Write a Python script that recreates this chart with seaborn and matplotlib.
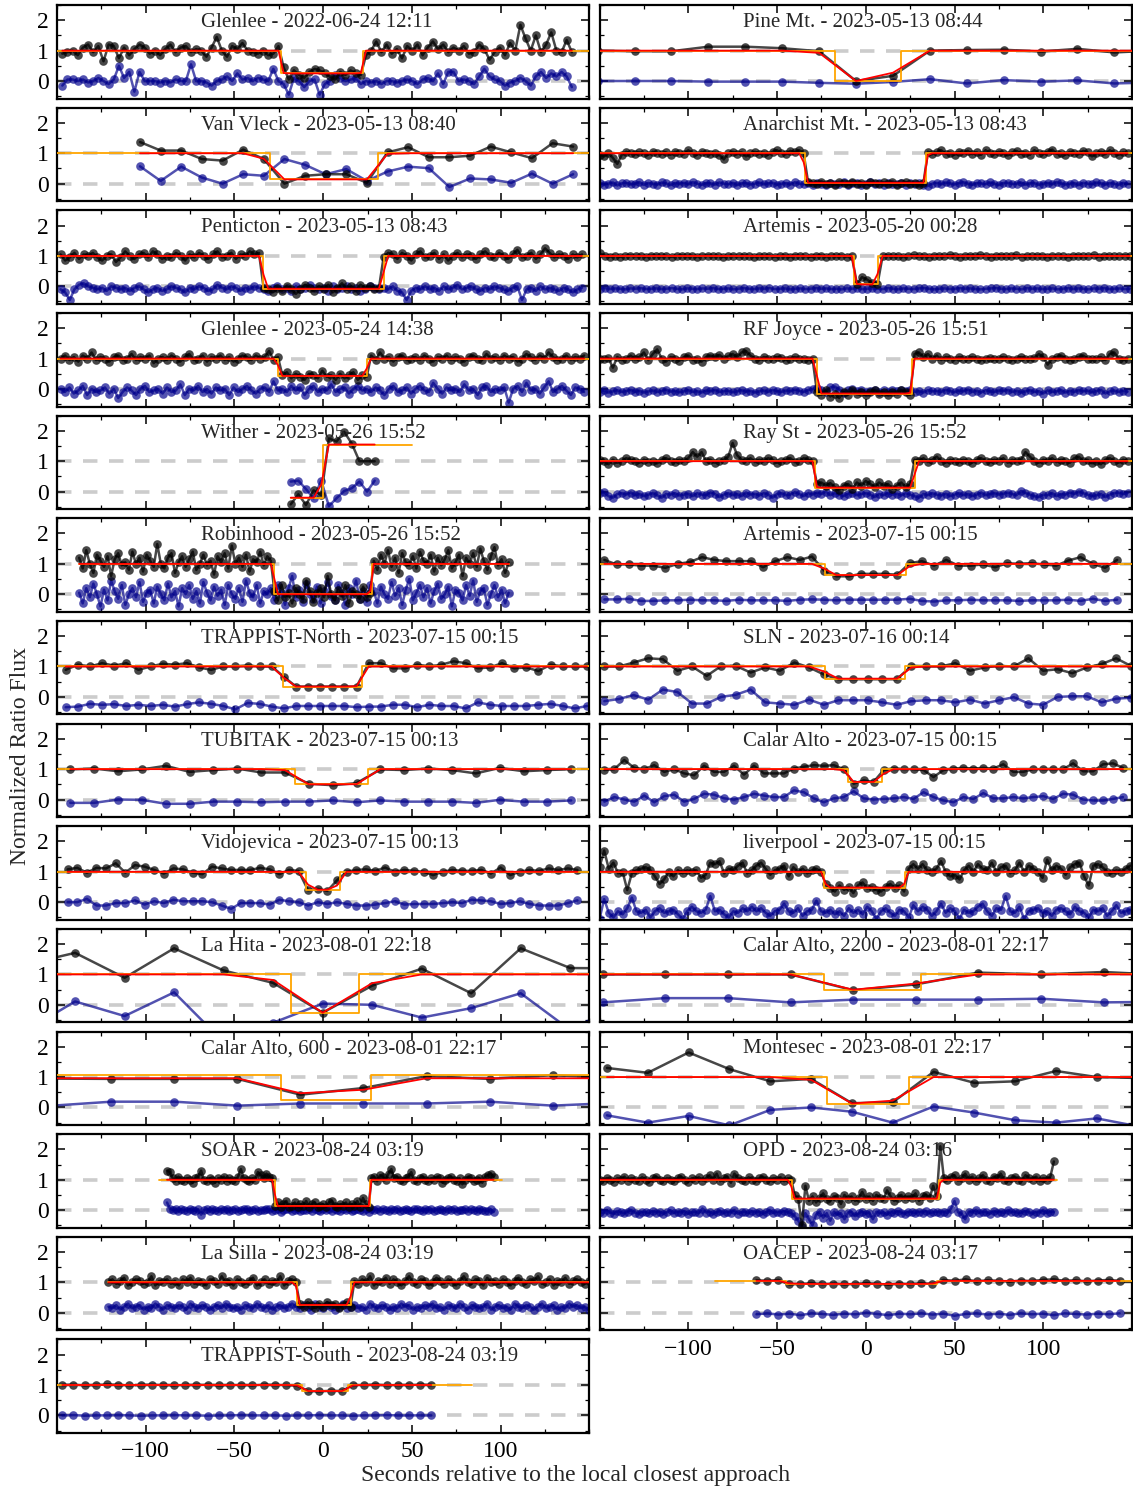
import numpy as np
import pandas as pd
import matplotlib
matplotlib.use("Agg")
import matplotlib.pyplot as plt
from matplotlib.ticker import MultipleLocator
import seaborn as sns

# ---------------------------------------------------------------------------
# Light curves: target flux (black) and comparison flux (blue) per station.
# Times are regular exposures: t = start + cadence * index (seconds).
# ---------------------------------------------------------------------------

# Glenlee - 2022-06-24
GLENLEE22_FLUX = [0.9,0.95,1.0,0.85,1.1,1.2,0.95,1.15,0.65,1.2,1.15,0.75,1.1,0.85,1.05,1.2,1.1,0.9,1.0,0.85,1.05,1.2,0.95,1.1,1.15,0.95,1.05,1.0,0.8,1.1,1.45,1.0,0.8,1.15,1.05,1.25,1.0,0.95,0.9,1.0,0.85,0.9,1.15,
                  0.45,0.05,0.35,0.2,0.1,0.3,0.4,0.35,0.25,0.15,0.05,0.3,0.2,0.35,0.25,0.2,
                  0.85,1.0,1.3,0.95,1.2,0.9,1.05,0.75,1.15,1.0,1.2,0.85,1.1,1.3,1.05,1.2,0.95,1.1,1.0,1.15,0.9,0.95,1.2,1.05,
                  0.7,0.95,1.1,0.85,1.25,1.0,1.85,1.4,1.0,1.5,0.95,1.2,1.6,1.0,0.95,1.35,0.95]
GLENLEE22_COMP = [-0.15,0.05,0.05,0.0,0.05,-0.05,0.0,0.1,0.0,-0.1,0.05,0.5,0.1,0.3,-0.35,0.3,0.0,0.0,0.0,-0.05,0.0,-0.05,0.05,0.0,0.0,0.55,0.0,0.0,-0.05,-0.15,0.0,0.05,0.15,0.0,0.25,0.05,0.1,0.0,0.1,0.05,0.0,0.4,0.0,
                  -0.1,-0.45,0.1,0.0,-0.2,0.0,0.05,-0.45,-0.1,0.0,0.2,0.1,0.0,0.05,0.1,-0.1,
                  0.0,-0.05,0.0,-0.1,0.0,0.0,-0.05,0.0,0.05,0.0,-0.1,0.05,0.1,0.0,0.25,-0.1,0.3,0.3,0.0,0.05,0.0,-0.1,0.15,0.4,0.15,0.05,0.0,-0.15,-0.05,0.0,0.1,0.0,-0.15,0.15,0.3,0.1,0.25,0.15,0.3,0.15,-0.2]

# Van Vleck - 2023-05-13
VANVLECK_FLUX = [1.37,1.09,1.09,0.81,0.76,1.12,0.81,0.0,0.26,0.31,0.31,0.03,1.03,1.2,0.87,0.87,0.92,1.22,1.03,0.84,1.33,1.22]
VANVLECK_COMP = [0.57,0.09,0.56,0.2,0.0,0.31,0.26,0.81,0.62,0.31,0.48,0.09,0.4,0.56,0.51,-0.11,0.17,0.14,0.03,0.33,0.0,0.31]

# Penticton - 2023-05-13
PENTICTON_FLUX = [1.05,0.85,0.95,1.1,0.9,1.05,1.0,1.1,0.95,0.85,1.0,1.05,0.8,0.95,1.15,1.0,0.9,1.05,1.1,0.95,1.15,1.05,0.9,1.0,0.95,1.1,1.0,0.85,1.05,0.95,1.1,1.0,0.9,1.05,1.15,0.95,1.0,1.1,0.9,1.05,1.0,1.15,1.05,1.1,
                  -0.05,-0.1,-0.2,-0.05,-0.15,0.0,-0.1,-0.25,-0.1,0.05,-0.05,-0.15,0.0,-0.1,0.05,-0.2,-0.05,0.1,-0.1,0.0,-0.15,0.05,-0.05,0.0,-0.1,-0.05,
                  0.95,1.1,1.05,0.9,1.1,1.0,0.85,1.05,1.15,0.95,1.0,1.1,0.9,1.05,0.85,1.0,1.1,0.95,1.05,1.0,0.9,1.05,1.15,1.0,0.95,1.1,1.0,0.9,1.05,1.2,0.95,1.0,1.1,0.9,1.05,1.25,1.1,0.95,1.05,1.0,0.9,1.05,0.95,1.05]
PENTICTON_COMP = [-0.1,-0.2,-0.45,-0.1,0.05,0.1,0.0,-0.05,-0.1,-0.05,-0.15,0.0,-0.05,-0.1,-0.05,-0.15,-0.05,0.0,-0.1,-0.2,-0.1,-0.05,-0.15,-0.1,0.0,-0.05,-0.1,-0.2,-0.05,-0.1,0.0,-0.05,-0.15,-0.1,0.05,-0.05,-0.1,0.0,-0.05,-0.15,-0.05,-0.1,0.0,-0.05,
                  -0.1,-0.15,-0.05,0.0,-0.1,-0.05,-0.15,0.0,-0.1,-0.05,0.05,-0.05,-0.1,-0.05,-0.15,0.0,-0.1,-0.05,0.0,-0.1,-0.05,-0.15,-0.1,0.0,-0.05,-0.1,
                  -0.05,-0.1,0.0,-0.15,-0.2,-0.45,-0.15,-0.05,-0.1,0.0,-0.1,-0.05,-0.15,0.0,-0.1,-0.05,0.05,-0.1,-0.05,0.0,-0.1,-0.15,-0.05,-0.1,0.0,-0.05,-0.1,-0.15,-0.05,0.0,-0.45,-0.1,-0.05,-0.15,0.0,-0.1,-0.05,-0.1,-0.15,-0.05,-0.1,-0.2,-0.1,-0.05]

# Glenlee - 2023-05-24
GLENLEE23_FLUX = [1.0,1.1,0.95,1.05,0.9,1.1,1.0,1.2,0.95,1.05,1.0,0.9,1.05,1.1,0.95,1.0,1.15,0.95,1.05,1.0,1.1,0.85,1.0,1.05,0.95,1.1,1.0,0.9,1.05,1.15,0.95,1.0,1.1,0.9,1.05,1.0,1.1,0.95,1.05,0.9,1.0,1.1,1.05,0.95,1.1,1.0,1.05,1.25,0.95,1.05,
                  0.45,0.55,0.35,0.5,0.4,0.3,0.5,0.45,0.35,0.6,0.4,0.45,0.3,0.5,0.35,0.45,0.55,0.3,0.45,0.4,
                  1.1,0.95,1.2,1.0,1.05,0.9,1.05,1.1,0.95,1.0,1.05,0.95,1.1,1.0,0.9,1.05,1.0,1.1,0.95,1.05,1.0,0.9,1.05,1.1,1.0,0.95,1.15,1.0,1.05,0.95,1.1,1.0,1.05,0.9,1.0,1.15,1.05,0.95,1.1,1.0,1.2,1.05,0.95,1.0,1.1,0.95,1.05,1.0,1.1]
GLENLEE23_COMP = [0.0,-0.1,0.05,-0.15,-0.05,0.1,-0.2,0.0,-0.1,-0.05,0.05,-0.15,0.0,-0.3,-0.1,0.05,-0.05,-0.2,0.0,0.1,-0.1,-0.05,0.0,-0.15,0.05,-0.1,-0.05,0.15,-0.2,0.0,-0.05,0.1,-0.1,0.0,-0.15,0.05,-0.05,0.0,-0.2,0.05,-0.1,0.0,0.1,-0.05,-0.15,0.0,0.05,-0.1,0.25,-0.05,
                  0.0,-0.1,0.1,-0.05,0.05,-0.2,0.0,0.1,-0.1,0.0,-0.05,0.15,-0.1,0.0,0.05,-0.15,0.0,0.1,-0.05,0.0,
                  -0.1,0.05,-0.05,-0.2,0.0,0.1,-0.1,-0.05,0.05,-0.15,0.0,0.1,-0.05,-0.1,0.2,0.0,-0.15,0.05,-0.05,0.0,-0.1,0.15,-0.05,0.0,-0.2,0.05,0.1,-0.1,0.0,-0.05,0.05,-0.45,0.0,0.1,-0.1,0.2,-0.05,0.0,-0.15,0.05,0.25,-0.1,0.0,0.1,-0.05,-0.2,0.05,0.0,-0.1]

# Wither - 2023-05-26
WITHER_FLUX = [-0.42,-0.09,-0.44,0.04,-0.12,1.75,1.65,1.97,1.58,1.0,1.0,1.0]
WITHER_COMP = [0.33,0.36,0.08,-0.22,0.36,-0.48,-0.22,0.02,0.11,0.33,0.0,0.36]

# Robinhood - 2023-05-26
ROBINHOOD_FLUX = [1.2,0.85,1.45,1.0,0.7,1.3,1.1,0.9,1.25,0.6,1.15,1.35,0.95,1.05,0.8,1.4,1.0,1.2,0.75,1.3,1.1,0.9,1.65,1.0,0.85,1.2,1.35,0.7,1.05,1.25,0.9,1.15,1.4,0.8,1.0,1.3,0.95,1.1,0.65,1.25,1.05,1.35,0.85,1.6,1.0,1.2,0.9,1.3,0.75,1.15,1.05,1.4,0.95,1.25,1.1,
                  0.1,-0.2,0.3,-0.1,0.05,-0.3,0.2,0.0,-0.15,0.45,0.1,-0.25,0.05,0.2,-0.1,0.6,0.0,-0.2,0.15,-0.05,0.3,-0.3,0.1,0.0,-0.15,0.25,-0.1,0.05,
                  1.1,0.8,1.3,1.0,1.45,0.9,1.2,0.7,1.35,1.05,0.95,1.25,0.85,1.4,1.1,1.0,1.3,0.75,1.2,0.95,1.15,1.45,0.85,1.05,1.3,0.6,1.2,1.0,1.35,0.9,1.5,1.1,0.8,1.25,1.55,0.95,1.15,0.7,1.05]
ROBINHOOD_COMP = [0.05,-0.3,0.2,-0.1,0.35,0.0,-0.4,0.15,-0.2,0.45,0.1,-0.15,0.3,-0.35,0.0,0.2,-0.1,0.4,-0.25,0.05,0.15,-0.3,0.25,0.0,-0.2,0.35,-0.1,0.1,-0.4,0.2,0.0,0.3,-0.15,0.1,-0.3,0.4,0.05,-0.2,0.25,-0.05,0.15,-0.35,0.3,0.0,-0.15,0.2,-0.25,0.45,0.05,-0.1,0.3,-0.3,0.1,0.0,0.2,
                  -0.2,0.3,0.05,-0.35,0.2,0.6,-0.1,0.15,-0.25,0.35,0.0,-0.15,0.25,-0.3,0.1,0.4,-0.05,-0.2,0.3,0.05,-0.35,0.2,0.0,0.45,-0.15,0.1,-0.25,0.3,
                  0.1,-0.3,0.25,0.0,-0.15,0.4,-0.05,0.2,-0.35,0.15,0.5,-0.2,0.05,0.3,-0.1,0.2,-0.3,0.1,0.35,-0.15,0.0,0.25,-0.4,0.15,0.05,-0.2,0.3,-0.05,0.45,-0.25,0.1,0.2,-0.35,0.0,0.3,-0.1,0.15,-0.3,0.05]

# TRAPPIST-North - 2023-07-15
TNORTH_FLUX = [0.89,1.06,1.0,1.11,1.03,1.11,0.89,1.0,1.09,1.06,1.11,0.97,0.89,1.0,1.0,1.03,1.0,1.0,0.66,0.34,0.34,0.34,0.34,0.34,0.34,1.11,1.11,0.94,0.94,1.06,1.0,1.06,1.17,1.11,0.94,0.97,1.11,0.94,0.97,0.85,1.06,1.0,1.0,1.0]
TNORTH_COMP = [-0.34,-0.32,-0.23,-0.26,-0.24,-0.30,-0.26,-0.30,-0.26,-0.32,-0.24,-0.18,-0.23,-0.30,-0.41,-0.20,-0.23,-0.32,-0.38,-0.30,-0.30,-0.30,-0.30,-0.30,-0.34,-0.32,-0.32,-0.26,-0.26,-0.34,-0.26,-0.30,-0.30,-0.38,-0.18,-0.26,-0.30,-0.30,-0.30,-0.26,-0.23,-0.30,-0.38,-0.30]

# TUBITAK - 2023-07-15
TUBITAK_FLUX = [0.99,1.02,0.93,0.99,1.11,0.91,0.97,1.02,0.89,0.89,0.52,0.47,0.54,0.99,0.97,1.02,0.97,0.86,1.04,0.93,0.97,1.0]
TUBITAK_COMP = [-0.11,-0.11,0.0,-0.01,-0.14,-0.14,-0.07,-0.07,-0.09,-0.07,-0.07,-0.03,-0.09,-0.03,-0.07,-0.07,-0.07,-0.11,-0.01,-0.07,-0.07,-0.03]

# Vidojevica - 2023-07-15
VIDOJEVICA_FLUX = [1.08,1.13,0.97,1.13,1.11,1.28,0.97,1.22,1.17,1.06,0.94,1.11,1.08,0.97,0.92,1.17,1.11,1.06,1.06,1.06,1.13,1.08,0.92,1.06,1.03,0.39,0.44,0.37,0.72,1.0,1.06,1.08,1.03,1.14,1.0,1.06,1.03,1.0,0.89,1.0,1.06,1.03,1.03,1.06,0.94,1.14,0.89,1.0,1.06,1.03,1.11,1.06,1.11,1.06]
VIDOJEVICA_COMP = [0.0,0.0,0.11,-0.11,-0.11,-0.03,-0.03,0.06,-0.08,0.03,-0.03,0.08,0.03,0.03,0.03,0.0,-0.11,-0.22,-0.03,-0.03,-0.03,-0.08,0.08,0.03,0.0,-0.11,0.0,-0.06,0.0,-0.06,-0.11,-0.11,-0.08,-0.03,0.03,-0.08,-0.06,-0.06,-0.06,-0.03,0.0,-0.03,0.08,0.06,0.03,-0.06,-0.03,0.03,-0.06,-0.11,-0.11,-0.11,-0.03,0.06]

# La Hita - 2023-08-01
LAHITA_FLUX = [1.33,1.71,0.89,1.86,1.13,0.72,-0.26,0.63,1.19,0.38,1.86,1.21,1.2]
LAHITA_COMP = [-0.86,0.11,-0.37,0.41,-1.23,-0.59,0.04,0.0,-0.42,-0.11,0.38,-0.83,0.01]

# Calar Alto, 600 - 2023-08-01
CA600_FLUX = [0.95,0.94,0.94,0.94,0.42,0.64,1.03,0.94,1.06,0.97]
CA600_COMP = [0.05,0.19,0.19,0.06,0.13,0.13,0.13,0.19,0.06,0.15]

# SOAR - 2023-08-24
SOAR_FLUX = [1.3,1.25,1.05,0.95,1.1,1.0,0.95,1.05,1.0,0.9,1.05,1.1,1.3,1.0,0.95,1.05,1.0,0.9,1.05,1.0,1.1,0.95,1.05,1.0,0.95,1.1,1.35,1.05,1.0,0.95,1.05,1.0,1.25,1.15,1.05,1.2,1.1,1.05,
             0.15,0.25,0.1,0.2,0.3,0.1,0.15,0.25,0.1,0.2,0.15,0.3,0.1,0.2,0.25,0.1,0.15,0.2,0.1,0.25,0.3,0.15,0.1,0.2,0.15,0.25,0.1,0.2,0.15,0.3,0.1,0.4,0.2,0.1,
             1.05,1.1,0.95,1.15,1.1,1.0,1.2,1.35,1.05,1.1,1.0,0.95,1.05,1.1,1.25,1.0,0.95,1.05,1.1,1.0,0.95,1.05,1.0,1.1,1.05,0.9,1.0,1.05,1.1,1.0,0.95,1.05,0.85,1.0,1.1,1.05,0.95,1.0,1.05,0.9,1.1,1.15,1.2,1.1]
SOAR_COMP = [0.25,0.05,0.0,0.02,-0.03,0.03,0.0,-0.02,0.04,0.0,-0.03,0.02,-0.15,0.0,0.03,-0.02,0.02,0.0,-0.04,0.03,0.0,0.05,-0.02,0.01,0.03,-0.03,0.0,0.02,0.04,-0.02,0.0,0.03,-0.03,0.01,0.0,0.05,0.02,-0.02,
             0.0,0.03,-0.05,0.0,0.02,0.04,-0.02,0.0,0.03,-0.03,0.01,0.0,0.04,-0.02,0.02,0.0,-0.04,0.03,0.0,0.02,-0.02,0.04,0.0,-0.03,0.02,0.0,0.03,-0.02,0.01,0.04,0.0,-0.03,0.02,-0.06,
             0.02,0.0,0.03,-0.02,0.04,0.0,-0.03,0.02,0.0,0.05,-0.02,0.01,0.03,0.0,-0.03,0.02,0.04,0.0,-0.02,0.03,0.0,0.02,-0.04,0.01,0.03,0.0,-0.02,0.04,0.0,0.02,-0.03,0.01,0.0,0.03,-0.02,0.02,0.0,-0.03,0.03,0.0,-0.02,-0.04,0.02,-0.05]

# La Silla - 2023-08-24
LASILLA_FLUX = [1.0,1.1,0.95,1.05,1.15,0.9,1.0,1.1,1.05,0.95,1.0,1.2,0.9,1.05,1.0,1.1,0.95,1.05,0.9,1.1,1.0,1.15,0.95,1.05,1.0,0.9,1.1,1.05,0.95,1.2,1.0,1.05,0.9,1.1,1.0,0.95,1.05,1.15,0.9,1.0,1.1,0.95,1.05,1.0,1.2,0.9,1.05,1.1,1.0,
                0.3,0.2,0.35,0.25,0.15,0.3,0.2,0.35,0.25,0.3,0.15,0.25,0.35,0.2,
                1.05,0.95,1.1,1.0,1.2,0.9,1.05,1.0,1.15,0.95,1.1,1.0,0.9,1.05,1.2,1.0,0.95,1.1,1.05,0.9,1.0,1.15,1.05,0.95,1.1,1.0,0.9,1.05,1.2,1.0,0.95,1.1,1.05,0.9,1.15,1.0,1.05,0.95,1.1,1.0,0.9,1.05,1.15,1.0,0.95,1.1,1.05,1.2,0.95,1.0,1.1,0.9,1.05,1.0,1.15,0.95,1.05,1.1,1.0,0.95,1.05]
LASILLA_COMP = [0.2,0.15,0.25,0.1,0.2,0.3,0.15,0.2,0.25,0.1,0.2,0.15,0.3,0.2,0.1,0.25,0.2,0.15,0.25,0.2,0.1,0.3,0.2,0.15,0.25,0.2,0.1,0.2,0.25,0.15,0.3,0.2,0.15,0.2,0.1,0.25,0.2,0.15,0.3,0.2,0.15,0.25,0.1,0.2,0.25,0.15,0.2,0.3,0.2,
                0.15,0.25,0.2,0.1,0.3,0.2,0.15,0.25,0.2,0.1,0.2,0.3,0.15,0.2,
                0.25,0.15,0.2,0.1,0.3,0.2,0.15,0.25,0.2,0.1,0.2,0.15,0.3,0.2,0.25,0.1,0.2,0.15,0.25,0.2,0.3,0.15,0.2,0.1,0.25,0.2,0.15,0.3,0.2,0.1,0.25,0.2,0.15,0.2,0.3,0.1,0.2,0.25,0.15,0.2,0.1,0.3,0.2,0.15,0.25,0.2,0.1,0.2,0.3,0.15,0.2,0.25,0.1,0.2,0.15,0.3,0.2,0.25,0.15,0.2,0.1]

# TRAPPIST-South - 2023-08-24
TSOUTH_FLUX = [1.0,1.01,0.99,1.0,1.02,1.0,0.99,1.0,1.01,1.0,0.99,1.0,1.0,1.01,0.99,1.0,1.0,0.99,1.01,1.0,1.0,0.98,0.8,0.79,0.81,0.8,1.0,1.0,1.01,0.99,1.0,1.0,1.01,1.0]
TSOUTH_COMP = [0.0,0.01,-0.01,0.0,0.0,0.01,0.0,-0.01,0.0,0.0,0.01,0.0,0.0,-0.01,0.0,0.0,0.01,0.0,0.0,0.0,-0.01,0.0,0.0,0.01,0.0,0.0,-0.01,0.0,0.0,0.01,0.0,0.0,0.0,0.0]

# Pine Mt. - 2023-05-13
PINE_FLUX = [1.0,0.98,0.98,1.13,1.13,1.08,0.98,0.0,0.17,1.0,1.02,1.03,0.97,1.06,0.94,1.0]
PINE_COMP = [0.0,0.0,0.0,-0.02,-0.02,-0.02,-0.06,-0.09,-0.03,0.06,-0.08,0.03,-0.02,0.02,-0.08,-0.05]

# Anarchist Mt. - 2023-05-13
ANARCHIST_FLUX = [0.95,0.9,1.0,0.85,0.65,0.95,1.05,1.0,0.97,1.03,1.0,0.95,1.05,1.0,0.98,1.03,0.95,1.05,1.0,0.97,1.1,1.0,0.95,1.05,1.0,0.97,1.02,0.95,0.8,1.0,1.05,0.97,1.03,0.9,1.0,1.05,0.98,1.02,0.95,1.05,1.1,1.0,0.97,1.08,1.03,1.1,1.0,
                  0.05,0.02,-0.02,0.06,0.0,0.03,-0.05,0.04,0.01,-0.02,0.05,0.0,0.03,-0.03,0.06,0.02,-0.01,0.04,0.0,0.05,-0.04,0.02,0.06,0.0,0.03,-0.05,0.01,
                  1.05,0.97,1.03,1.1,0.98,1.02,0.95,1.05,1.0,1.08,0.97,1.03,0.95,1.1,1.0,0.97,1.05,1.0,0.93,1.03,1.08,0.98,1.02,0.95,1.1,1.0,0.97,1.05,1.12,0.98,1.02,0.95,1.05,1.0,0.97,1.08,1.03,0.9,1.0,1.05,0.97,1.1,1.0,0.95,1.03,1.0]
ANARCHIST_COMP = [0.02,-0.03,0.0,0.04,-0.06,0.01,0.03,-0.02,0.0,0.05,-0.04,0.02,0.0,-0.03,0.04,0.01,-0.05,0.02,0.0,0.03,-0.02,0.05,0.0,-0.04,0.02,0.01,-0.03,0.04,0.0,-0.02,0.03,-0.05,0.01,0.02,-0.03,0.0,0.04,-0.02,0.01,0.03,-0.04,0.0,0.02,-0.03,0.05,0.0,-0.02,
                  0.01,-0.04,0.02,0.0,-0.06,0.03,-0.02,0.0,0.04,-0.05,0.01,0.02,-0.03,0.0,0.05,-0.02,0.01,-0.04,0.03,0.0,-0.02,0.02,-0.05,0.01,0.0,0.03,-0.03,
                  -0.08,0.0,0.03,-0.02,0.04,0.01,-0.03,0.02,0.05,0.0,-0.04,0.02,0.01,-0.02,0.04,0.0,-0.05,0.02,0.03,-0.01,0.0,0.04,-0.03,0.01,0.02,-0.04,0.0,0.03,-0.02,0.05,0.01,-0.03,0.0,0.02,-0.05,0.03,0.0,-0.02,0.04,0.01,-0.03,0.02,0.0,-0.04,0.03,0.0]

# Artemis - 2023-05-20
ARTEMIS20_FLUX = [1.08,1.0,0.98,1.0,0.97,1.0,1.01,0.99,1.0,0.98,1.01,1.0,0.99,1.0,0.97,1.0,1.01,0.99,1.0,0.98,1.0,1.01,0.99,1.0,0.97,1.0,1.0,0.99,1.01,1.0,0.98,1.0,0.99,1.01,0.97,1.0,1.0,0.98,1.01,1.0,0.99,0.97,1.0,1.01,0.98,1.0,0.99,1.0,0.98,1.0,
                  0.08,0.3,0.22,0.1,0.06,
                  1.0,1.01,0.99,1.0,0.98,1.0,1.02,0.99,1.0,0.98,1.01,1.0,0.99,1.02,1.0,0.98,1.0,1.01,0.99,1.02,1.0,0.98,1.0,1.01,0.99,1.0,1.02,0.98,1.0,0.99,1.01,1.0,0.98,1.0,1.01,0.99,0.97,1.0,1.01,0.99,1.0,1.02,0.98,1.0,1.01,0.99,1.0,1.01,1.0]
ARTEMIS20_COMP = [-0.08,-0.06,-0.09,-0.07,-0.08,-0.1,-0.07,-0.08,-0.06,-0.09,-0.08,-0.07,-0.09,-0.08,-0.06,-0.08,-0.1,-0.07,-0.08,-0.09,
                  -0.07,-0.08,-0.06,-0.09,-0.08,-0.07,-0.1,-0.08,-0.06,-0.08,-0.09,-0.07,-0.08,-0.06,-0.09,-0.08,-0.07,-0.1,-0.08,-0.07,
                  -0.09,-0.08,-0.06,-0.08,-0.07,-0.09,-0.08,-0.1,-0.07,-0.08,-0.06,-0.09,-0.08,-0.07,-0.08,-0.09,-0.06,-0.08,-0.1,-0.07,
                  -0.08,-0.09,-0.07,-0.06,-0.08,-0.1,-0.08,-0.07,-0.09,-0.08,-0.06,-0.08,-0.07,-0.09,-0.1,-0.08,-0.07,-0.06,-0.08,-0.09,
                  -0.07,-0.08,-0.1,-0.06,-0.08,-0.07,-0.09,-0.08,-0.07,-0.1,-0.08,-0.06,-0.09,-0.07,-0.08,-0.1,-0.07,-0.08,-0.06,-0.09,
                  -0.08,-0.07,-0.09,-0.08]

# RF Joyce - 2023-05-26
RFJOYCE_FLUX = [1.0,0.98,1.02,0.7,1.05,0.95,1.0,1.1,0.97,1.05,1.2,0.95,1.15,1.3,1.0,0.9,1.05,1.0,0.93,1.05,1.1,0.95,1.0,0.9,1.05,1.1,1.05,1.12,1.0,1.08,1.15,1.05,1.2,1.25,1.1,1.0,0.95,1.05,1.0,0.97,1.05,1.02,0.95,1.0,1.05,0.97,1.0,0.95,1.0,
                -0.1,-0.2,-0.05,-0.25,-0.15,-0.3,-0.1,-0.2,-0.05,-0.15,-0.1,-0.2,-0.1,-0.05,-0.15,-0.1,-0.2,-0.1,-0.15,-0.05,-0.1,-0.2,
                1.15,1.2,1.05,1.15,1.0,1.1,0.95,1.05,1.0,0.95,1.05,1.0,0.97,1.05,1.0,0.95,1.0,1.02,0.97,1.0,1.05,1.0,0.95,1.0,1.05,1.0,0.97,1.02,1.15,1.05,0.8,1.0,1.05,1.1,1.0,0.95,1.0,1.05,1.1,1.0,0.97,1.0,1.05,0.95,1.15,1.2,1.0,0.95,1.0]
RFJOYCE_COMP = [-0.1,-0.05,-0.12,-0.08,-0.04,-0.1,-0.07,-0.03,-0.1,-0.06,-0.12,-0.08,-0.05,-0.1,-0.07,-0.02,-0.09,-0.06,-0.11,-0.08,
                -0.04,-0.1,-0.07,-0.12,-0.05,-0.08,-0.03,-0.1,-0.07,-0.06,-0.11,-0.08,-0.04,-0.09,-0.06,-0.12,-0.08,-0.05,-0.1,-0.03,
                -0.07,-0.1,-0.05,-0.08,-0.02,-0.06,-0.1,-0.04,0.0,0.02,-0.05,-0.1,0.05,0.08,-0.02,-0.12,-0.05,0.0,-0.08,-0.03,
                -0.1,-0.06,-0.02,-0.09,-0.05,-0.1,-0.04,-0.07,-0.03,-0.08,-0.05,-0.1,-0.07,-0.12,-0.04,-0.08,-0.06,-0.1,-0.03,-0.07,
                -0.11,-0.05,-0.08,-0.02,-0.1,-0.06,-0.12,-0.04,-0.08,-0.1,-0.05,-0.07,-0.03,-0.1,-0.06,-0.12,-0.08,-0.04,-0.1,-0.07,
                -0.15,-0.05,-0.1,-0.08,-0.03,-0.12,-0.06,-0.1,-0.04,-0.08,-0.05,-0.11,-0.07,-0.03,-0.15,-0.08,-0.05,-0.1,-0.06,-0.09]

# Ray St - 2023-05-26
RAYST_FLUX = [1.05,1.0,0.9,1.05,0.95,1.0,1.1,1.05,1.0,0.95,1.05,0.97,1.0,0.93,1.05,1.1,1.0,0.97,1.05,1.0,1.1,1.3,1.15,1.3,1.0,1.05,0.95,1.0,1.05,1.15,1.6,1.2,1.05,1.0,1.1,0.97,1.05,1.0,1.1,1.05,0.95,1.0,1.05,1.1,0.97,1.0,1.1,1.05,1.0,
              0.25,0.3,0.2,0.28,0.15,0.05,0.2,0.25,0.1,0.3,0.2,0.35,0.25,0.15,0.3,0.2,0.25,0.1,0.2,0.3,0.15,0.25,
              1.05,1.0,1.1,0.97,1.05,1.15,1.0,0.95,1.05,1.0,0.97,1.05,1.0,0.95,1.05,1.1,1.0,0.97,1.05,1.0,1.1,0.95,1.05,1.0,1.05,1.3,1.15,1.0,0.95,1.05,1.0,1.1,0.97,1.05,1.0,0.95,1.1,1.15,1.0,1.05,0.93,1.0,0.9,1.05,1.1,1.0,0.95,1.05,1.0]
RAYST_COMP = [-0.05,-0.02,-0.15,-0.2,-0.08,-0.05,-0.1,-0.03,-0.12,-0.08,-0.15,-0.1,-0.05,-0.12,-0.2,-0.08,-0.1,-0.05,-0.13,-0.1,
              -0.07,-0.15,-0.05,-0.1,-0.12,-0.03,-0.08,-0.18,-0.1,-0.05,-0.12,-0.08,-0.15,-0.03,-0.1,-0.07,-0.13,-0.05,-0.1,-0.2,
              -0.08,-0.05,-0.12,-0.1,-0.02,-0.08,-0.15,-0.05,-0.1,-0.03,-0.08,0.0,-0.12,-0.05,-0.1,-0.15,-0.07,-0.03,-0.12,-0.08,
              -0.05,-0.1,-0.18,-0.08,-0.12,-0.05,-0.1,-0.07,-0.13,-0.05,-0.1,-0.15,-0.2,-0.08,-0.12,-0.05,-0.1,-0.13,-0.07,-0.15,
              -0.1,-0.05,-0.12,-0.08,-0.15,-0.1,-0.03,-0.12,-0.08,-0.05,-0.1,-0.07,-0.03,-0.08,-0.12,0.02,-0.05,-0.1,-0.15,-0.18,
              -0.1,-0.12,-0.05,-0.15,-0.08,-0.1,-0.03,-0.08,0.0,-0.05,-0.1,-0.15,-0.12,-0.08,-0.18,-0.1,-0.05,-0.03,-0.08,-0.05]

# Artemis - 2023-07-15
ARTEMIS15_FLUX = [1.13,0.98,0.98,0.94,0.94,0.87,1.0,1.06,1.22,1.13,1.09,1.09,1.09,0.89,1.09,1.22,1.13,1.24,0.78,0.59,0.59,0.67,0.67,0.67,0.64,1.02,1.09,0.94,1.13,0.94,0.94,0.98,0.89,1.02,1.0,1.02,0.98,0.94,1.11,1.22,1.0,0.87,1.13]
ARTEMIS15_COMP = [-0.17,-0.17,-0.15,-0.22,-0.22,-0.2,-0.2,-0.18,-0.2,-0.2,-0.22,-0.18,-0.2,-0.2,-0.2,-0.22,-0.18,-0.17,-0.18,-0.2,-0.18,-0.18,-0.18,-0.18,-0.18,-0.15,-0.22,-0.24,-0.2,-0.2,-0.18,-0.2,-0.2,-0.2,-0.22,-0.2,-0.2,-0.2,-0.18,-0.22,-0.15,-0.22,-0.18]

# SLN - 2023-07-16
SLN_FLUX = [1.0,1.0,1.13,1.27,1.24,0.86,1.0,0.69,1.02,1.02,0.8,0.97,0.86,1.13,0.97,0.74,0.58,0.58,0.58,0.58,0.58,1.02,1.0,1.0,1.11,0.86,0.97,1.02,1.0,1.27,0.86,0.91,0.78,0.97,1.08,1.27,1.02]
SLN_COMP = [-0.14,-0.07,0.06,-0.09,0.24,0.16,-0.22,-0.22,0.0,0.07,0.24,-0.18,-0.22,-0.26,-0.09,-0.26,-0.11,-0.11,-0.11,-0.18,-0.26,-0.14,-0.11,-0.11,-0.18,-0.09,-0.22,-0.11,-0.01,-0.22,-0.26,0.0,0.02,0.02,-0.18,-0.06,-0.03]

# Calar Alto - 2023-07-15
CALARALTO_FLUX = [0.97,1.0,1.3,1.04,1.0,1.13,0.91,1.0,0.86,0.8,1.11,0.91,0.91,1.11,0.82,1.11,0.86,0.86,0.86,1.02,1.08,1.13,1.11,1.13,1.0,0.52,0.63,0.58,0.97,1.02,1.0,1.0,0.97,0.74,0.97,1.02,1.04,1.02,1.04,1.02,1.16,0.91,0.91,1.0,1.0,1.0,1.0,1.19,0.93,0.93,1.16,1.19,1.04]
CALARALTO_COMP = [-0.07,0.08,0.0,-0.07,0.13,-0.09,0.11,0.16,-0.07,0.02,0.19,0.16,0.04,0.0,0.08,0.19,0.13,0.08,0.08,0.3,0.24,0.04,-0.09,0.04,0.08,0.27,0.04,0.0,0.02,0.04,0.08,0.02,0.24,0.08,-0.03,-0.09,0.08,0.02,0.21,0.04,0.04,0.08,0.04,0.08,0.11,0.02,0.19,0.16,0.0,-0.03,-0.03,0.02,0.08]

# liverpool - 2023-07-15
LIVERPOOL_FLUX = [1.15,1.7,1.1,1.3,0.95,1.0,0.4,0.95,1.05,1.1,1.15,1.05,0.85,0.6,0.75,1.0,0.85,1.05,0.95,1.05,1.0,1.05,0.8,0.9,1.3,1.25,1.35,0.95,1.1,1.05,1.2,1.3,0.95,1.05,1.2,1.3,1.1,0.9,1.05,1.1,1.2,0.85,1.15,1.0,1.1,0.95,1.05,1.1,1.0,
                  0.6,0.45,0.35,0.55,0.4,0.5,0.3,0.55,0.65,0.45,0.5,0.4,0.35,0.5,0.6,0.45,0.55,0.35,
                  1.1,1.25,1.1,1.25,1.05,1.0,1.1,1.35,1.0,0.85,0.9,0.75,1.05,1.2,1.0,1.25,1.1,1.05,1.3,1.0,1.15,1.2,0.95,1.05,1.3,1.0,1.2,1.1,1.0,0.8,1.4,1.05,1.2,1.1,0.9,1.15,1.25,1.3,0.85,0.55,1.2,1.25,1.15,1.0,0.95,1.05,1.0,1.1,1.2]
LIVERPOOL_COMP = [-0.55,0.1,-0.35,-0.5,-0.3,-0.4,-0.2,0.15,-0.3,-0.35,-0.25,-0.5,-0.3,-0.2,-0.35,-0.3,-0.25,-0.4,-0.55,-0.3,-0.15,-0.3,-0.35,-0.25,0.2,-0.3,-0.25,-0.4,-0.5,-0.3,-0.35,-0.2,-0.3,-0.15,-0.3,-0.2,-0.35,-0.45,-0.3,-0.25,-0.05,-0.3,-0.35,-0.2,-0.45,-0.3,-0.25,0.05,-0.3,
                  -0.35,-0.25,-0.4,-0.3,-0.45,-0.2,-0.35,-0.25,-0.4,-0.15,-0.3,-0.55,-0.3,-0.2,-0.35,-0.45,-0.25,-0.3,
                  -0.5,-0.1,-0.3,-0.15,-0.25,-0.45,-0.3,-0.05,-0.35,-0.2,-0.3,-0.55,-0.25,-0.35,-0.3,-0.15,-0.05,-0.3,-0.45,-0.2,-0.25,0.2,-0.3,-0.35,-0.15,-0.55,-0.3,-0.25,-0.2,-0.35,-0.3,-0.45,-0.25,-0.2,-0.3,-0.4,-0.15,-0.3,-0.35,-0.5,-0.25,-0.3,-0.2,-0.45,-0.3,-0.1,-0.35,-0.3,-0.25]

# Calar Alto, 2200 - 2023-08-01
CA2200_FLUX = [1.0,1.0,1.0,1.0,0.48,0.67,1.06,1.0,1.08,0.98]
CA2200_COMP = [0.08,0.22,0.22,0.08,0.17,0.17,0.17,0.2,0.08,0.1]

# Montesec - 2023-08-01
MONTESEC_FLUX = [1.3,1.14,1.81,1.26,0.86,0.94,0.14,0.17,1.17,0.81,0.86,1.2,1.0,0.97]
MONTESEC_COMP = [-0.26,-0.5,-0.28,-0.59,-0.08,0.0,-0.14,-0.5,0.03,-0.17,-0.42,-0.5,-0.36,-0.62]

# OPD - 2023-08-24
OPD_FLUX = [1.0,0.95,1.05,1.0,0.93,1.05,1.0,1.1,0.97,1.05,1.0,0.95,1.08,1.0,0.93,1.05,1.1,1.0,0.97,1.05,1.0,0.95,1.05,1.1,1.0,0.93,1.05,1.0,1.08,0.97,1.05,1.15,1.0,1.2,0.95,1.05,1.1,0.9,1.2,1.05,1.0,0.97,1.08,1.0,0.95,1.05,1.1,1.0,0.97,1.05,1.0,1.08,0.95,1.05,1.0,
            0.5,0.35,-0.5,0.8,0.3,0.45,0.25,0.4,0.55,0.35,0.3,0.45,0.4,0.2,0.5,0.35,0.45,0.3,0.4,0.6,0.35,0.45,0.3,0.5,0.4,0.35,0.65,0.45,0.3,0.4,0.5,0.35,0.45,0.4,0.55,0.3,0.45,0.5,0.4,0.8,0.45,
            2.1,1.05,1.0,1.1,1.15,0.97,1.05,1.2,1.0,1.1,0.95,1.05,1.15,1.0,0.97,1.1,1.05,1.2,1.0,0.95,1.05,1.1,1.0,0.97,1.15,1.05,1.0,1.1,0.95,1.05,1.0,1.1,1.6]
OPD_COMP = [-0.05,-0.1,0.0,-0.08,-0.12,-0.03,-0.07,-0.1,-0.05,0.0,-0.08,-0.12,-0.05,-0.07,-0.1,-0.03,-0.08,-0.05,-0.12,-0.07,0.0,-0.1,-0.05,-0.08,-0.03,-0.12,-0.07,-0.05,-0.1,0.05,-0.08,-0.05,-0.12,-0.07,-0.03,-0.1,-0.05,-0.08,0.0,-0.12,-0.07,-0.05,-0.1,-0.03,-0.08,-0.05,-0.12,-0.07,0.0,-0.1,-0.05,-0.08,-0.03,-0.07,-0.1,
            -0.2,-0.35,-0.55,-0.1,-0.3,-0.5,-0.15,-0.05,-0.25,-0.1,-0.35,-0.05,-0.15,-0.1,-0.3,-0.08,-0.05,-0.2,-0.1,-0.05,-0.12,-0.08,-0.3,-0.05,-0.1,-0.07,-0.15,-0.05,-0.1,-0.03,-0.08,-0.12,-0.05,-0.07,-0.1,-0.05,-0.08,-0.03,-0.1,-0.07,-0.05,
            -0.08,-0.05,-0.1,0.05,0.3,-0.07,-0.12,-0.3,-0.05,-0.08,0.0,-0.1,-0.05,-0.07,-0.12,-0.03,-0.08,-0.05,-0.1,0.0,-0.07,-0.05,-0.1,-0.08,-0.03,-0.07,-0.12,-0.05,-0.08,0.0,-0.1,-0.05,-0.07]

# OACEP - 2023-08-24
OACEP_FLUX = [1.07,1.05,1.08,0.93,0.95,0.97,0.94,0.96,0.93,0.95,0.97,0.95,0.92,0.96,0.94,0.97,0.95,1.08,1.05,1.1,1.03,1.07,1.05,1.02,1.06,1.04,1.08,1.1,1.05,1.07,1.03,1.06,1.08,1.05]
OACEP_COMP = [-0.05,-0.02,-0.06,-0.03,-0.08,-0.02,-0.04,-0.07,-0.03,-0.05,0.0,-0.04,-0.08,-0.03,-0.05,-0.02,-0.06,-0.03,-0.1,-0.04,-0.02,-0.06,-0.03,-0.07,-0.02,-0.05,-0.03,-0.08,-0.02,-0.04,-0.06,-0.03,-0.05,-0.02]

# Panel table: title, column, row, first exposure, cadence, fluxes,
# occultation ingress/egress, out/in model level, model span, drawn step levels
PANELS = [
    ("Glenlee - 2022-06-24 12:11", 0, 0, -147.0, 2.9, GLENLEE22_FLUX, GLENLEE22_COMP, -23.7, 22.6, 1.0, 0.25, -150, 150, 1.0, 0.25),
    ("Van Vleck - 2023-05-13 08:40", 0, 1, -103.2, 11.62, VANVLECK_FLUX, VANVLECK_COMP, -30.1, 30.7, 1.0, 0.14, -150, 150, 1.0, 0.14),
    ("Penticton - 2023-05-13 08:43", 0, 2, -148.0, 2.6, PENTICTON_FLUX, PENTICTON_COMP, -33.8, 34.0, 1.0, -0.08, -150, 150, 1.0, -0.08),
    ("Glenlee - 2023-05-24 14:38", 0, 3, -148.0, 2.5, GLENLEE23_FLUX, GLENLEE23_COMP, -25.2, 24.7, 1.0, 0.43, -150, 150, 1.0, 0.43),
    ("Wither - 2023-05-26 15:52", 0, 4, -18.3, 4.3, WITHER_FLUX, WITHER_COMP, -1000.0, 0.0, 1.55, -0.2, -18.3, 50, 1.55, -0.2),
    ("Robinhood - 2023-05-26 15:52", 0, 5, -137.5, 2.0, ROBINHOOD_FLUX, ROBINHOOD_COMP, -27.5, 27.3, 1.0, 0.0, -137.5, 104.5, 1.0, 0.0),
    ("TRAPPIST-North - 2023-07-15 00:15", 0, 6, -145.1, 6.83, TNORTH_FLUX, TNORTH_COMP, -22.6, 22.1, 1.0, 0.34, -150, 150, 1.0, 0.34),
    ("TUBITAK - 2023-07-15 00:13", 0, 7, -142.5, 13.44, TUBITAK_FLUX, TUBITAK_COMP, -15.7, 25.4, 1.0, 0.5, -150, 150, 1.0, 0.5),
    ("Vidojevica - 2023-07-15 00:13", 0, 8, -144.0, 5.42, VIDOJEVICA_FLUX, VIDOJEVICA_COMP, -9.7, 9.2, 1.0, 0.41, -150, 150, 1.0, 0.41),
    ("La Hita - 2023-08-01 22:18", 0, 9, -167.7, 27.9, LAHITA_FLUX, LAHITA_COMP, -18.3, 20.0, 1.0, -0.26, -150, 150, 1.0, -0.26),
    ("Calar Alto, 600 - 2023-08-01 22:17", 0, 10, -154.8, 35.5, CA600_FLUX, CA600_COMP, -23.7, 26.9, 0.96, 0.35, -150, 150, 1.07, 0.26),
    ("SOAR - 2023-08-24 03:19", 0, 11, -88.0, 1.6, SOAR_FLUX, SOAR_COMP, -27.3, 26.4, 1.0, 0.13, -92.5, 101, 1.0, 0.13),
    ("La Silla - 2023-08-24 03:19", 0, 12, -121.0, 2.2, LASILLA_FLUX, LASILLA_COMP, -14.6, 15.7, 1.0, 0.26, -121, 150, 1.0, 0.26),
    ("TRAPPIST-South - 2023-08-24 03:19", 0, 13, -147.0, 6.3, TSOUTH_FLUX, TSOUTH_COMP, -12.0, 14.0, 1.0, 0.8, -150, 84, 1.0, 0.8),
    ("Pine Mt. - 2023-05-13 08:44", 1, 0, -151.1, 20.8, PINE_FLUX, PINE_COMP, -17.4, 20.0, 1.0, 0.0, -150, 150, 1.0, 0.0),
    ("Anarchist Mt. - 2023-05-13 08:43", 1, 1, -150.0, 2.5, ANARCHIST_FLUX, ANARCHIST_COMP, -34.5, 33.9, 1.0, 0.03, -150, 150, 1.0, 0.03),
    ("Artemis - 2023-05-20 00:28", 1, 2, -150.0, 2.9, ARTEMIS20_FLUX, ARTEMIS20_COMP, -6.4, 7.0, 1.0, 0.06, -150, 150, 1.0, 0.06),
    ("RF Joyce - 2023-05-26 15:51", 1, 3, -150.0, 2.5, RFJOYCE_FLUX, RFJOYCE_COMP, -27.5, 26.2, 1.0, -0.15, -150, 150, 1.0, -0.15),
    ("Ray St - 2023-05-26 15:52", 1, 4, -150.0, 2.5, RAYST_FLUX, RAYST_COMP, -28.7, 27.5, 1.0, 0.13, -150, 150, 1.0, 0.13),
    ("Artemis - 2023-07-15 00:15", 1, 5, -147.3, 6.88, ARTEMIS15_FLUX, ARTEMIS15_COMP, -22.9, 22.7, 1.0, 0.63, -150, 150, 1.0, 0.63),
    ("SLN - 2023-07-16 00:14", 1, 6, -147.3, 8.24, SLN_FLUX, SLN_COMP, -22.9, 22.3, 1.0, 0.6, -150, 150, 1.0, 0.6),
    ("Calar Alto - 2023-07-15 00:15", 1, 7, -147.3, 5.62, CALARALTO_FLUX, CALARALTO_COMP, -10.1, 9.3, 1.0, 0.58, -150, 150, 1.0, 0.58),
    ("liverpool - 2023-07-15 00:15", 1, 8, -150.0, 2.6, LIVERPOOL_FLUX, LIVERPOOL_COMP, -23.3, 22.3, 1.0, 0.48, -150, 150, 1.0, 0.48),
    ("Calar Alto, 2200 - 2023-08-01 22:17", 1, 9, -148.3, 35.3, CA2200_FLUX, CA2200_COMP, -23.7, 31.0, 1.0, 0.48, -150, 150, 1.0, 0.48),
    ("Montesec - 2023-08-01 22:17", 1, 10, -145.8, 23.0, MONTESEC_FLUX, MONTESEC_COMP, -21.7, 24.2, 1.0, 0.13, -150, 150, 1.0, 0.13),
    ("OPD - 2023-08-24 03:16", 1, 11, -150.0, 2.0, OPD_FLUX, OPD_COMP, -41.7, 41.3, 1.0, 0.38, -150, 108, 1.0, 0.38),
    ("OACEP - 2023-08-24 03:17", 1, 12, -61.6, 6.2, OACEP_FLUX, OACEP_COMP, -45.0, 40.0, 1.05, 0.95, -85, 150, 1.05, 0.95),
]


def binned_model(t, cadence, ingress, egress, base, level):
    """Square occultation profile averaged over each exposure."""
    lo, hi = t - cadence / 2, t + cadence / 2
    overlap = np.clip(np.minimum(hi, egress) - np.maximum(lo, ingress), 0, None)
    return base - overlap / cadence * (base - level)


def step_profile(x0, x1, ingress, egress, hi, lo):
    xs, ys = [], []
    for a, b, v in ((x0, ingress, hi), (ingress, egress, lo), (egress, x1, hi)):
        a, b = max(a, x0), min(b, x1)
        if b > a:
            xs += [a, b]
            ys += [v, v]
    return np.array(xs), np.array(ys)


sns.set_theme(style="ticks", rc={
    "axes.edgecolor": "black",
    "axes.linewidth": 1.6,
    "xtick.direction": "in", "ytick.direction": "in",
    "xtick.top": True, "ytick.right": True,
    "xtick.major.size": 6, "ytick.major.size": 6,
    "xtick.minor.size": 3, "ytick.minor.size": 3,
    "xtick.major.width": 1.1, "ytick.major.width": 1.1,
    "xtick.minor.width": 0.9, "ytick.minor.width": 0.9,
    "xtick.color": "black", "ytick.color": "black",
})
plt.rcParams["font.family"] = ["Liberation Serif", "DejaVu Serif"]

fig, axes = plt.subplots(14, 2, figsize=(11.33, 14.91), dpi=100)
fig.subplots_adjust(left=0.0503, right=0.9991, top=0.9966, bottom=0.0389,
                    hspace=0.097, wspace=0.019)
fig.delaxes(axes[13, 1])

for (title, col, row, t0, cad, flux, comp, ing, egr, base, level,
     ox0, ox1, ohi, olo) in PANELS:
    ax = axes[row, col]
    ax.axhline(1, color="#cccccc", lw=2.6, ls=(0, (4, 3.2)), zorder=0)
    ax.axhline(0, color="#cccccc", lw=2.6, ls=(0, (4, 3.2)), zorder=0)

    t_comp = t0 + cad * np.arange(len(comp))
    t_flux = t0 + cad * np.arange(len(flux))
    sns.lineplot(x=t_comp, y=comp, ax=ax, estimator=None, sort=False,
                 color="#00008b", alpha=0.68, lw=1.8, marker="o",
                 markersize=6.2, markeredgewidth=0, zorder=2)
    sns.lineplot(x=t_flux, y=flux, ax=ax, estimator=None, sort=False,
                 color="black", alpha=0.72, lw=1.8, marker="o",
                 markersize=6.2, markeredgewidth=0, zorder=3)

    sx, sy = step_profile(ox0, ox1, ing, egr, ohi, olo)
    sns.lineplot(x=sx, y=sy, ax=ax, estimator=None, sort=False,
                 color="orange", lw=1.3, zorder=4)
    red = binned_model(t_flux, cad, ing, egr, base, level)
    sns.lineplot(x=t_flux, y=red, ax=ax, estimator=None, sort=False,
                 color="red", lw=1.3, zorder=5)

    ax.text(0.27, 0.765, title, transform=ax.transAxes, ha="left",
            va="baseline", fontsize=15, zorder=6)

    ax.set_xlim(-150, 150)
    ax.set_ylim(-0.58, 2.5)
    ax.set_yticks([0, 1, 2])
    ax.yaxis.set_minor_locator(MultipleLocator(0.5))
    ax.set_xticks([-100, -50, 0, 50, 100])
    ax.xaxis.set_minor_locator(MultipleLocator(25))
    ax.tick_params(which="both", direction="in", top=True, right=True,
                   labelsize=17, pad=6)
    ax.set_xlabel("")
    ax.set_ylabel("")
    if col == 1:
        ax.tick_params(labelleft=False)
    last_row = 13 if col == 0 else 12
    if row != last_row:
        ax.tick_params(labelbottom=False)

fig.text(0.018, 0.493, "Normalized Ratio Flux", rotation=90,
         ha="center", va="center", fontsize=17)
fig.text(0.508, 0.0107, "Seconds relative to the local closest approach",
         ha="center", va="center", fontsize=17)

fig.savefig("out.png", dpi=100)
